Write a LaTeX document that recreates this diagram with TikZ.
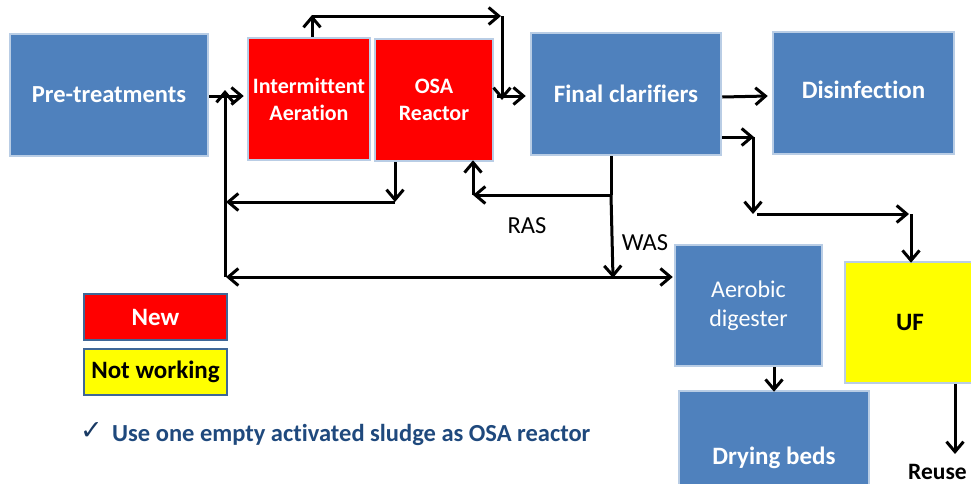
\documentclass[tikz,border=0pt]{standalone}
\usepackage{fontspec}
\setmainfont[Ligatures=CommonOff]{Carlito}
\newfontfamily\symfont{DejaVu Sans}
\usetikzlibrary{arrows.meta}
\definecolor{boxblue}{HTML}{4F81BD}
\definecolor{boxrim}{HTML}{B9CDE5}
\definecolor{keyrim}{HTML}{3F6797}
\definecolor{noteblue}{HTML}{1F497D}
\definecolor{newred}{HTML}{FF0000}
\definecolor{offyellow}{HTML}{FFFF00}

\tikzset{
  unit/.style={draw=boxrim, line width=2.5pt, inner sep=0pt, align=center,
    font=\fontsize{25}{27}\selectfont},
  bluebox/.style={unit, fill=boxblue, text=white},
  redbox/.style={unit, fill=newred, text=white, font=\fontsize{22}{27}\selectfont\bfseries},
  yellowbox/.style={unit, fill=offyellow, text=black},
  keybox/.style={draw=keyrim, line width=2pt, inner sep=0pt,
    minimum width=143pt, minimum height=46pt,
    font=\fontsize{25}{27}\selectfont\bfseries},
  flow/.style={line width=3pt, -{Straight Barb[length=10pt,width=17pt]}},
  pipe/.style={line width=3pt},
  tag/.style={font=\fontsize{24.5}{27}\selectfont, inner sep=0pt}
}

\begin{document}
\begin{tikzpicture}[x=1pt,y=-1pt]
\useasboundingbox (0,0) rectangle (971,483);
\clip (0,0) rectangle (971,483);

% process units
\node[bluebox, minimum width=198pt, minimum height=122pt, font=\fontsize{24.5}{27}\selectfont] (pre) at (109,95) {\bfseries Pre-treatments};
\node[redbox, minimum width=122pt, minimum height=122pt] (ia) at (309,99) {Intermittent\\Aeration};
\node[redbox, minimum width=118pt, minimum height=122pt] (osa) at (434,100) {OSA\\Reactor};
\node[bluebox, minimum width=190pt, minimum height=122pt] (fc) at (626,94) {\bfseries Final clarifiers};
\node[bluebox, minimum width=181pt, minimum height=122pt, text depth=7pt] (dis) at (863.5,93) {\bfseries Disinfection};
\node[bluebox, minimum width=147pt, minimum height=121pt, font=\fontsize{24}{29}\selectfont] (ad) at (748.5,305.5) {Aerobic\\digester};
\node[yellowbox, minimum width=130pt, minimum height=121pt] (uf) at (910,322.5) {\bfseries UF};
\node[bluebox, minimum width=190pt, minimum height=134pt] (dry) at (774,458) {\bfseries Drying beds};
\node[tag, font=\fontsize{23.5}{27}\selectfont\bfseries, anchor=base west] (reuse) at (908,479.5) {Reuse};

% legend
\node[keybox, fill=newred, text=white] (keynew) at (155.5,317) {New};
\node[keybox, fill=offyellow, text=black] (keyoff) at (155.5,372) {Not working};

% note
\node[anchor=base west, inner sep=0pt, text=noteblue,
  font=\fontsize{24.5}{28}\selectfont\bfseries] (note) at (112,441)
  {Use one empty activated sludge as OSA reactor};
\node[anchor=base west, inner sep=0pt, text=noteblue!80!black,
  font=\symfont\fontsize{27}{30}\selectfont] (tick) at (80,439) {✓};

% stream labels
\node[tag] (ras) at (527,226) {RAS};
\node[tag] (was) at (645,243) {WAS};

% junction points
\coordinate (inlet) at (225,96);
\coordinate (loopfoot) at (225,277);
\coordinate (bypassup) at (312,16);
\coordinate (bypassend) at (502,16);
\coordinate (feedin) at (502,96);
\coordinate (osafoot) at (395,202);
\coordinate (rastee) at (611,195);
\coordinate (rasturn) at (473,195);
\coordinate (wastee) at (611,277);
\coordinate (effturn) at (753,137);
\coordinate (efffoot) at (753,214);
\coordinate (ufturn) at (911,214);

% main line
\draw[flow] (pre.east |- inlet) -- ([xshift=-3pt]ia.west |- inlet);
\draw[flow] (loopfoot) -- ([yshift=6pt]inlet);
\draw[flow] (ia.north -| bypassup) -- ([yshift=1pt]bypassup);
\draw[flow] (bypassup) -- ([xshift=-1pt]bypassend);
\draw[flow] (bypassend) -- ([yshift=-4pt]feedin);
\draw[flow] ([xshift=-5pt]feedin) -- ([xshift=-4pt]fc.west |- feedin);
\draw[flow] ([yshift=-4pt]fc.east |- dis.west) -- ([xshift=-4pt,yshift=-3pt]dis.west);

% internal recycle
\draw[flow] (osa.south -| osafoot) -- (osafoot);
\draw[flow] (osafoot) -- ([xshift=1pt]osafoot -| inlet);

% return and waste sludge
\draw[pipe] (fc.south -| rastee) -- (rastee);
\draw[flow] (rastee) -- (rasturn);
\draw[flow] (rasturn) -- ([yshift=2pt]osa.south -| rasturn);
\draw[flow] (rastee) -- ([xshift=2pt,yshift=-1pt]wastee);
\draw[flow] (wastee) -- ([xshift=1pt]loopfoot);
\draw[flow] (wastee) -- ([xshift=-1pt]ad.west |- wastee);
\draw[flow] (ad.south -| dry) -- ([yshift=-2pt]dry.north);

% effluent to reuse
\draw[flow] (fc.east |- effturn) -- ([xshift=1pt]effturn);
\draw[flow] (effturn) -- (efffoot);
\draw[flow] ([xshift=4pt]efffoot) -- ([xshift=-2pt]ufturn);
\draw[flow] (ufturn) -- ([yshift=-2pt]uf.north -| ufturn);
\draw[flow] (uf.south -| 955,0) -- (955,454);
\end{tikzpicture}
\end{document}
